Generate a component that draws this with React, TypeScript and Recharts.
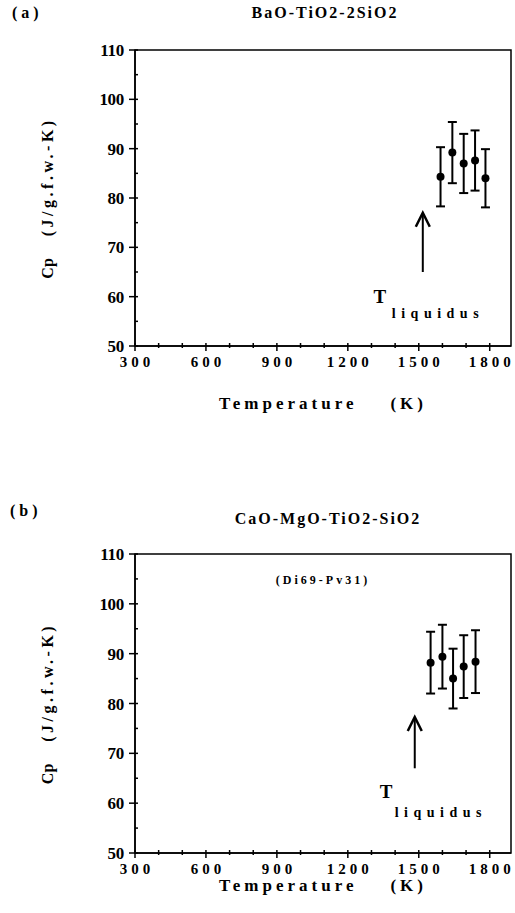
import React from "react";
import {
  ScatterChart,
  Scatter,
  XAxis,
  YAxis,
  ErrorBar,
  ReferenceArea,
  ReferenceLine,
  ReferenceDot,
  Label,
} from "recharts";

// axes
const xDomain = [300, 1890];
const yDomain = [50, 110];
const xMajor = [300, 600, 900, 1200, 1500, 1800];
const xMinor = [400, 500, 700, 800, 1000, 1100, 1300, 1400, 1600, 1700];
const yMajor = [50, 60, 70, 80, 90, 100, 110];
const yMinor = [55, 65, 75, 85, 95, 105];

// (a) BaO-TiO2-2SiO2
const tempA = [1592, 1642, 1690, 1738, 1782];
const cpA = [84.3, 89.2, 87.0, 87.6, 84.0];
const errA = [6.0, 6.2, 6.0, 6.1, 5.9];
const arrowA = [1517, 65, 77]; // x, tail, tip
const tLabelA = [1335, 58.7];
const liqLabelA = [1386, 55.7];

// (b) CaO-MgO-TiO2-SiO2
const tempB = [1550, 1600, 1645, 1690, 1740];
const cpB = [88.2, 89.4, 85.0, 87.4, 88.4];
const errB = [6.2, 6.4, 6.0, 6.3, 6.3];
const arrowB = [1483, 67, 77.3];
const tLabelB = [1362, 61.0];
const liqLabelB = [1398, 57.2];
const noteB = [1095, 104.0];

const FONT = '"Liberation Serif", "Times New Roman", serif';

const toRows = (t: number[], cp: number[], err: number[]) =>
  t.map((v, i) => ({ t: v, cp: cp[i], err: err[i] }));

const XTick = (props: any) => {
  const { x, y, payload } = props;
  const major = xMajor.includes(payload.value);
  return (
    <g>
      <line x1={x} x2={x} y1={y - 3} y2={y + (major ? 5 : 2)} stroke="#000" strokeWidth={1.5} />
      {major && (
        <text
          x={x + 2}
          y={y + 21}
          textAnchor="middle"
          fontFamily={FONT}
          fontWeight="bold"
          fontSize={15}
          letterSpacing={4}
          fill="#000"
        >
          {payload.value}
        </text>
      )}
    </g>
  );
};

const YTick = (props: any) => {
  const { x, y, payload } = props;
  const major = yMajor.includes(payload.value);
  return (
    <g>
      <line x1={x - (major ? 6 : 0)} x2={x + 3} y1={y} y2={y} stroke="#000" strokeWidth={1.5} />
      {major && (
        <text
          x={x - 11}
          y={y + 6}
          textAnchor="end"
          fontFamily={FONT}
          fontWeight="bold"
          fontSize={17}
          letterSpacing={-0.3}
          fill="#000"
        >
          {payload.value}
        </text>
      )}
    </g>
  );
};

const Arrow = (props: any) => {
  const { x1, y1, x2, y2 } = props;
  const tip = Math.min(y1, y2);
  const tail = Math.max(y1, y2);
  const x = (x1 + x2) / 2;
  return (
    <g>
      <line x1={x} x2={x} y1={tail} y2={tip + 1} stroke="#000" strokeWidth={2} />
      <polyline
        points={`${x - 7},${tip + 14} ${x},${tip} ${x + 7},${tip + 14}`}
        fill="none"
        stroke="#000"
        strokeWidth={2.5}
      />
    </g>
  );
};

const BigT = (props: any) => (
  <text x={props.cx} y={props.cy} textAnchor="middle" fontFamily={FONT} fontWeight="bold" fontSize={19} fill="#000">
    T
  </text>
);

const Liq = (props: any) => (
  <text
    x={props.cx}
    y={props.cy}
    fontFamily={FONT}
    fontWeight="bold"
    fontSize={14}
    letterSpacing={5.5}
    fill="#000"
  >
    liquidus
  </text>
);

const Note = (props: any) => (
  <text
    x={props.cx}
    y={props.cy}
    textAnchor="middle"
    fontFamily={FONT}
    fontWeight="bold"
    fontSize={12}
    letterSpacing={3}
    fill="#000"
  >
    (Di69-Pv31)
  </text>
);

const YLabel = (props: any) => {
  const { viewBox } = props;
  const cx = viewBox.x + viewBox.width - 88;
  const cy = viewBox.y + viewBox.height / 2;
  return (
    <text
      transform={`translate(${cx},${cy}) rotate(-90)`}
      textAnchor="middle"
      dominantBaseline="central"
      fontFamily={FONT}
      fontWeight="bold"
      fontSize={16}
      fill="#000"
    >
      <tspan>Cp</tspan>
      <tspan dx={22} letterSpacing={3.5}>
        (J/g.f.w.-K)
      </tspan>
    </text>
  );
};

const XLabel = (props: any) => {
  const { viewBox, dy } = props;
  return (
    <text
      x={viewBox.x + viewBox.width / 2}
      y={viewBox.y + dy}
      textAnchor="middle"
      fontFamily={FONT}
      fontWeight="bold"
      fontSize={17}
      letterSpacing={4}
      fill="#000"
      style={{ whiteSpace: "pre" }}
    >
      {"Temperature    (K)"}
    </text>
  );
};

interface PanelProps {
  rows: { t: number; cp: number; err: number }[];
  arrow: number[];
  tLabel: number[];
  liqLabel: number[];
  note?: number[];
  height: number;
  margin: { top: number; right: number; bottom: number; left: number };
  xAxisHeight: number;
  labelDy: number;
}

function Panel({ rows, arrow, tLabel, liqLabel, note, height, margin, xAxisHeight, labelDy }: PanelProps) {
  return (
    <ScatterChart width={515} height={height} margin={margin}>
      <XAxis
        type="number"
        dataKey="t"
        domain={xDomain}
        ticks={[...xMajor, ...xMinor].sort((a, b) => a - b)}
        interval={0}
        allowDataOverflow
        height={xAxisHeight}
        tickSize={0}
        tickMargin={0}
        tickLine={false}
        tick={<XTick />}
        axisLine={{ stroke: "#000", strokeWidth: 1.5 }}
        label={<Label content={<XLabel dy={labelDy} />} />}
      />
      <YAxis
        type="number"
        dataKey="cp"
        domain={yDomain}
        ticks={[...yMajor, ...yMinor].sort((a, b) => a - b)}
        interval={0}
        allowDataOverflow
        width={60}
        tickSize={0}
        tickMargin={0}
        tickLine={false}
        tick={<YTick />}
        axisLine={{ stroke: "#000", strokeWidth: 1.5 }}
        label={<Label content={<YLabel />} />}
      />
      <ReferenceArea
        x1={xDomain[0]}
        x2={xDomain[1]}
        y1={yDomain[0]}
        y2={yDomain[1]}
        fill="none"
        fillOpacity={0}
        stroke="#000"
        strokeWidth={1.5}
        ifOverflow="visible"
      />
      <ReferenceLine
        segment={[
          { x: arrow[0], y: arrow[1] },
          { x: arrow[0], y: arrow[2] },
        ]}
        shape={<Arrow />}
      />
      <ReferenceDot x={tLabel[0]} y={tLabel[1]} r={0} shape={<BigT />} />
      <ReferenceDot x={liqLabel[0]} y={liqLabel[1]} r={0} shape={<Liq />} />
      {note && <ReferenceDot x={note[0]} y={note[1]} r={0} shape={<Note />} />}
      <Scatter
        data={rows}
        fill="#000"
        isAnimationActive={false}
        shape={(p: any) => <circle cx={p.cx} cy={p.cy} r={4} fill="#000" />}
      >
        <ErrorBar dataKey="err" direction="y" width={4.5} stroke="#000" strokeWidth={2} isAnimationActive={false} />
      </Scatter>
    </ScatterChart>
  );
}

const headStyle: React.CSSProperties = {
  position: "absolute",
  fontFamily: FONT,
  fontWeight: "bold",
  fontSize: 16,
  color: "#000",
  whiteSpace: "pre",
  lineHeight: "18px",
};

export default function App() {
  return (
    <div style={{ position: "relative", width: 515, height: 913, background: "#fff", overflow: "hidden" }}>
      <style>{"body{margin:0}"}</style>
      <div style={{ ...headStyle, left: 12, top: 4, letterSpacing: 4 }}>(a)</div>
      <div style={{ ...headStyle, left: 137, width: 376, top: 4, textAlign: "center", letterSpacing: 2 }}>
        BaO-TiO2-2SiO2
      </div>
      <div style={{ position: "absolute", left: 0, top: 0 }}>
        <Panel
          rows={toRows(tempA, cpA, errA)}
          arrow={arrowA}
          tLabel={tLabelA}
          liqLabel={liqLabelA}
          height={440}
          margin={{ top: 50, right: 4, bottom: 34, left: 75 }}
          xAxisHeight={60}
          labelDy={63}
        />
      </div>
      <div style={{ ...headStyle, left: 10, top: 502, letterSpacing: 4 }}>(b)</div>
      <div style={{ ...headStyle, left: 140, width: 376, top: 510, textAlign: "center", letterSpacing: 2 }}>
        CaO-MgO-TiO2-SiO2
      </div>
      <div style={{ position: "absolute", left: 0, top: 460 }}>
        <Panel
          rows={toRows(tempB, cpB, errB)}
          arrow={arrowB}
          tLabel={tLabelB}
          liqLabel={liqLabelB}
          note={noteB}
          height={453}
          margin={{ top: 94, right: 4, bottom: 0, left: 75 }}
          xAxisHeight={60}
          labelDy={38}
        />
      </div>
    </div>
  );
}
